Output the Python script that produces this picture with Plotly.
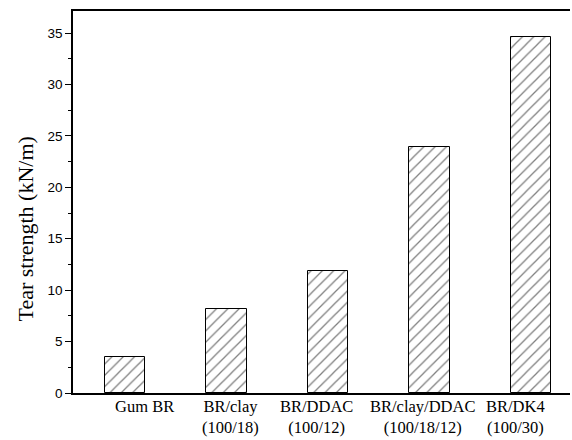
import plotly.graph_objects as go

# Tear strength of BR compounds
categories = ["Gum BR", "BR/clay<br>(100/18)", "BR/DDAC<br>(100/12)",
              "BR/clay/DDAC<br>(100/18/12)", "BR/DK4<br>(100/30)"]
tear_strength = [3.5, 8.2, 11.9, 23.9, 34.6]
y_ticks = [0, 5, 10, 15, 20, 25, 30, 35]

# horizontal nudges of the category captions (in category units)
label_shift = [0.19, 0.04, -0.11, -0.07, -0.15]

positions = list(range(len(categories)))

fig = go.Figure(
    go.Bar(
        x=positions,
        y=tear_strength,
        width=0.40,
        marker=dict(
            color="white",
            line=dict(color="black", width=1),
            pattern=dict(shape="/", size=8, solidity=0.16,
                         fgcolor="black", bgcolor="white"),
        ),
    )
)

fig.update_layout(
    width=572,
    height=440,
    margin=dict(l=73, r=2, t=11, b=47),
    paper_bgcolor="white",
    plot_bgcolor="white",
    showlegend=False,
    bargap=0,
)

fig.update_xaxes(
    range=[-0.512, 4.384],
    showline=True,
    linecolor="black",
    linewidth=1.5,
    mirror=True,
    ticks="",
    showticklabels=False,
    showgrid=False,
    zeroline=False,
    automargin=False,
)

fig.update_yaxes(
    range=[0, 37.15],
    tickmode="array",
    tickvals=y_ticks,
    ticks="outside",
    ticklen=6,
    tickwidth=1,
    tickcolor="black",
    minor=dict(dtick=2.5, ticks="outside", ticklen=3, tickwidth=1,
               tickcolor="black", showgrid=False),
    showline=True,
    linecolor="black",
    linewidth=1.5,
    showgrid=False,
    zeroline=False,
    automargin=False,
    tickfont=dict(family="Liberation Sans", size=13.5, color="black"),
)

# category captions under the bars
for pos, name, shift in zip(positions, categories, label_shift):
    fig.add_annotation(
        text=name,
        xref="x", yref="paper",
        x=pos + shift, y=-0.008,
        xanchor="center", yanchor="top",
        showarrow=False,
        align="center",
        borderpad=0,
        font=dict(family="Liberation Serif", size=16.5, color="black"),
    )

# Y-axis title placed as a rotated annotation
fig.add_annotation(
    text="Tear strength (kN/m)",
    xref="paper", yref="paper",
    x=-0.095, y=0.43,
    xanchor="center", yanchor="middle",
    textangle=-90,
    showarrow=False,
    font=dict(family="Liberation Serif", size=22, color="black"),
)

fig.write_html("out.html")
